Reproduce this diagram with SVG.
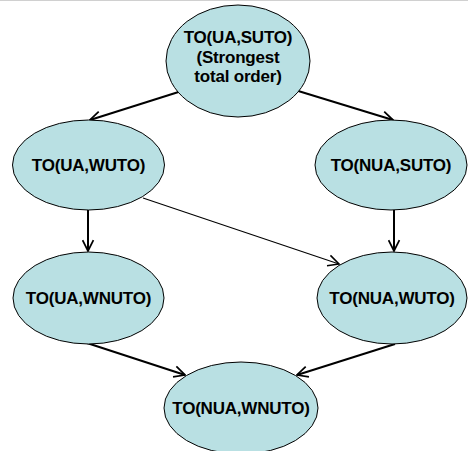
<svg xmlns="http://www.w3.org/2000/svg" width="468" height="451" viewBox="0 0 468 451">
<defs>
<marker id="arr" viewBox="0 0 12 12" refX="11" refY="6" markerWidth="13" markerHeight="13" markerUnits="userSpaceOnUse" orient="auto">
<path d="M1,1 L11,6 L1,11" fill="none" stroke="#000" stroke-width="1.6"/>
</marker>
<marker id="arrt" viewBox="0 0 12 12" refX="11" refY="6" markerWidth="13" markerHeight="13" markerUnits="userSpaceOnUse" orient="auto">
<path d="M1,1 L11,6 L1,11" fill="none" stroke="#000" stroke-width="1.4"/>
</marker>
</defs>
<style>
.n ellipse{fill:#b9e0e3;stroke:#000;stroke-width:1}
.n text{font-family:"Liberation Sans",Arial,sans-serif;font-weight:bold;font-size:17px;letter-spacing:-0.2px;text-anchor:middle;fill:#000}
.e line{stroke:#000;stroke-width:2;marker-end:url(#arr)}
.e line.thin{stroke-width:1.1;marker-end:url(#arrt)}
</style>
<rect width="468" height="451" fill="#fff"/>
<line x1="0" y1="0.5" x2="468" y2="0.5" stroke="#d0d0d0" stroke-width="1"/>
<g class="e" id="connectors">
<line x1="188" y1="89" x2="90" y2="120"/>
<line x1="295" y1="90" x2="393" y2="120"/>
<line x1="88" y1="210" x2="88" y2="251"/>
<line x1="394" y1="210" x2="394" y2="251"/>
<line class="thin" x1="143" y1="198" x2="339" y2="264"/>
<line x1="87" y1="343" x2="185" y2="375"/>
<line x1="395" y1="344" x2="297" y2="375"/>
</g>
<g class="n" id="n_ua_suto">
<ellipse cx="238" cy="61" rx="72" ry="56"/>
<text x="238" y="43">TO(UA,SUTO)</text>
<text x="238" y="63">(Strongest</text>
<text x="238" y="82">total order)</text>
</g>
<g class="n" id="n_ua_wuto">
<ellipse cx="88.5" cy="165" rx="76" ry="45"/>
<text x="88.5" y="171">TO(UA,WUTO)</text>
</g>
<g class="n" id="n_nua_suto">
<ellipse cx="391" cy="165" rx="76" ry="45"/>
<text x="391" y="171">TO(NUA,SUTO)</text>
</g>
<g class="n" id="n_ua_wnuto">
<ellipse cx="88.5" cy="298" rx="75.5" ry="46"/>
<text x="88.5" y="304">TO(UA,WNUTO)</text>
</g>
<g class="n" id="n_nua_wuto">
<ellipse cx="392" cy="298" rx="75" ry="46"/>
<text x="392" y="304">TO(NUA,WUTO)</text>
</g>
<g class="n" id="n_nua_wnuto">
<ellipse cx="241" cy="408" rx="77" ry="46"/>
<text x="241" y="414">TO(NUA,WNUTO)</text>
</g>
</svg>
